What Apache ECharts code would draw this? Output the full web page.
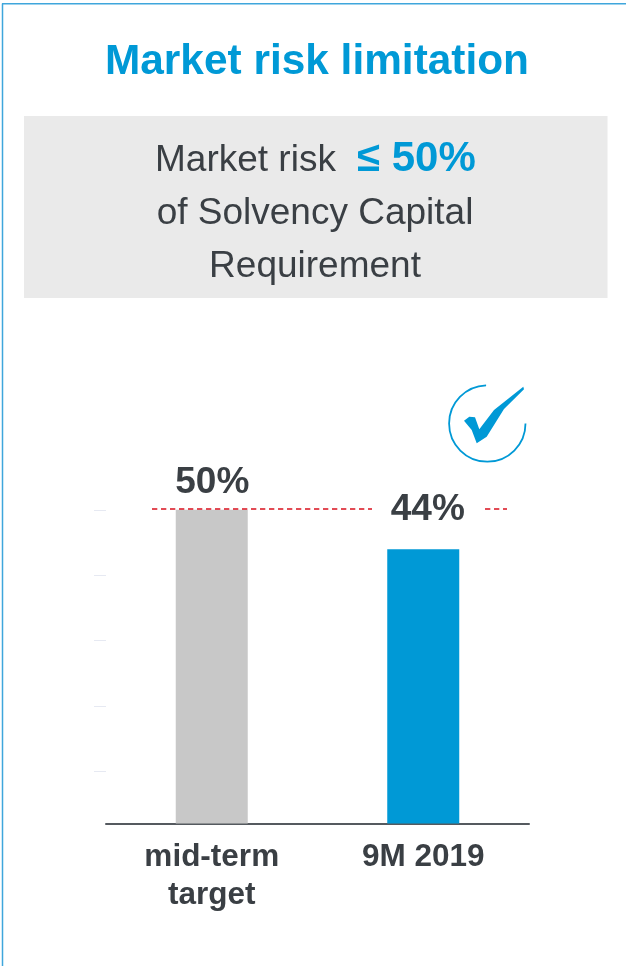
<!DOCTYPE html>
<html><head><meta charset="utf-8">
<style>html,body{margin:0;padding:0;background:#fff;overflow:hidden}#c{width:626px;height:966px}</style>
<script src="https://cdn.jsdelivr.net/npm/echarts@6/dist/echarts.min.js"></script>
</head><body><div id="c"></div>
<script>
const categories = ['mid-term\ntarget', '9M 2019'];
const values = [50, 43.7];
const barColors = ['#c8c8c8', '#0099d6'];
const limitValue = 50.1;
const limitSegments = [[0.2175, 1.2577], [1.792, 1.896]];
const faintTicks = [50, 39.6, 29.2, 18.7, 8.4];
const titleText = 'Market risk limitation';
const FONT = '"Liberation Sans", Arial, sans-serif';
const DARK = '#3a3f44', BLUE = '#0099d6';

const limitData = [];
limitSegments.forEach((s, i) => {
  if (i) limitData.push(['-', '-']);
  limitData.push([s[0], limitValue], [s[1], limitValue]);
});

const chart = echarts.init(document.getElementById('c'), null, {renderer: 'canvas'});
const textEl = (x, y, text, size, weight, fill, align) => ({
  type: 'text', x, y, z: 5,
  style: {text, font: `${weight} ${size}px ${FONT}`, fill, align: align || 'center', verticalAlign: 'middle'}
});
chart.setOption({
  animation: false,
  backgroundColor: '#fff',
  title: {
    text: titleText, left: 312, top: 36, textAlign: 'center',
    textStyle: {fontFamily: FONT, fontSize: 42.4, fontWeight: 'bold', color: BLUE}
  },
  grid: {left: 106, right: 97, top: 447, bottom: 142.5},
  xAxis: [
    {type: 'category', data: categories,
      axisLine: {lineStyle: {color: '#555a5f', width: 2}}, axisTick: {show: false},
      axisLabel: {fontFamily: FONT, fontSize: 31.5, fontWeight: 'bold', color: DARK, lineHeight: 38, margin: 15, interval: 0}},
    {type: 'value', min: 0, max: 2, show: false}
  ],
  yAxis: {
    type: 'value', min: 0, max: 60,
    axisLine: {show: false}, axisLabel: {show: false}, splitLine: {show: false},
    axisTick: {show: true, length: 12, customValues: faintTicks, lineStyle: {color: '#e6e9f2', width: 1}}
  },
  series: [
    {type: 'bar', barWidth: 72, z: 2,
      data: values.map((v, i) => ({
        value: v, itemStyle: {color: barColors[i]},
        label: i === 0 ? {distance: 8, offset: [0.5, 0]} : {distance: 21, offset: [4.5, 0]}
      })),
      label: {show: true, position: 'top', fontFamily: FONT, fontSize: 37, fontWeight: 'bold', color: DARK,
        formatter: p => Math.round(p.value) + '%'}},
    {type: 'line', xAxisIndex: 1, data: limitData, symbol: 'none', z: 3, clip: false, connectNulls: false,
      lineStyle: {color: '#d9101e', width: 1.5, type: [5.3, 3.7]}}
  ],
  graphic: [
    {type: 'line', shape: {x1: 2.5, y1: 3.5, x2: 2.5, y2: 966}, style: {stroke: '#3fa6dc', lineWidth: 1.5}},
    {type: 'line', shape: {x1: 2, y1: 3.8, x2: 626, y2: 3.8}, style: {stroke: '#3fa6dc', lineWidth: 1.5}},
    {type: 'rect', shape: {x: 24, y: 116, width: 583.5, height: 182}, style: {fill: '#eaeaea'}},
    textEl(155, 160.5, 'Market risk', 37, 'normal', DARK, 'left'),
    textEl(357, 159.5, '≤ 50%', 42, 'bold', BLUE, 'left'),
    textEl(315, 214, 'of Solvency Capital', 37, 'normal', DARK),
    textEl(315, 267, 'Requirement', 37, 'normal', DARK),
    {type: 'arc', shape: {cx: 487.3, cy: 423.5, r: 38.2, startAngle: 0, endAngle: Math.PI * 1.49, clockwise: true},
      style: {stroke: BLUE, lineWidth: 1.8, fill: 'none'}},
    {type: 'polygon', shape: {points: [[464,420.7],[469.3,416.7],[475,417.3],[479.3,429.3],[494,410],[523.3,386.7],[524,389.3],[504,409],[486.7,436.7],[476.7,443.3],[471.7,430]]},
      style: {fill: BLUE}}
  ]
});
</script></body></html>
